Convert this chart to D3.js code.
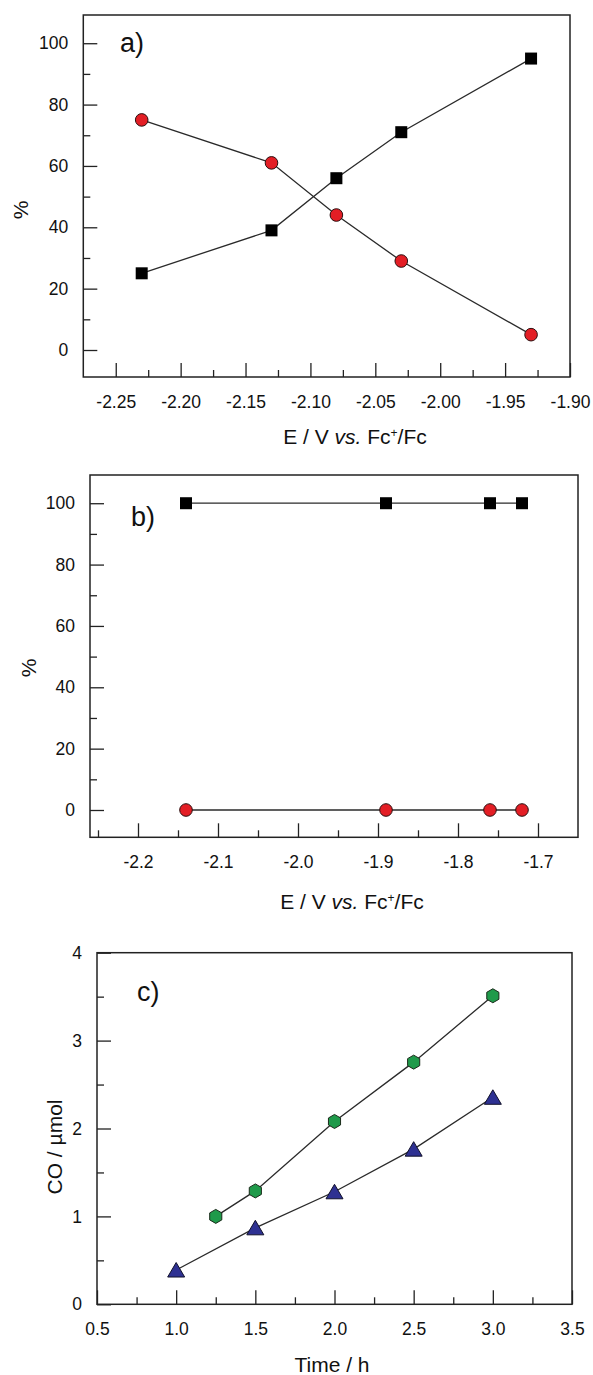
<!DOCTYPE html>
<html>
<head>
<meta charset="utf-8">
<script src="https://cdn.jsdelivr.net/npm/d3@7"></script>
<style>
  body { margin: 0; background: #fff; }
  svg { display: block; font-family: "Liberation Sans", Arial, sans-serif; }
</style>
</head>
<body>
<svg id="chart" width="593" height="1375"></svg>
<script>
// panel a) product share vs potential
var aPotential = [-2.23, -2.13, -2.08, -2.03, -1.93];
var aSquares = [25, 39, 56, 71, 95];
var aCircles = [75, 61, 44, 29, 5];
var aXTicks = [-2.25, -2.20, -2.15, -2.10, -2.05, -2.00, -1.95, -1.90];
var aXMinor = [-2.225, -2.175, -2.125, -2.075, -2.025, -1.975, -1.925];

// panel b)
var bPotential = [-2.14, -1.89, -1.76, -1.72];
var bSquares = [100, 100, 100, 100];
var bCircles = [0, 0, 0, 0];
var bXTicks = [-2.2, -2.1, -2.0, -1.9, -1.8, -1.7];
var bXMinor = [-2.25, -2.15, -2.05, -1.95, -1.85, -1.75];

var pctTicks = [0, 20, 40, 60, 80, 100];
var pctMinor = [10, 30, 50, 70, 90];

// panel c) CO vs time
var cTimeHex = [1.25, 1.5, 2.0, 2.5, 3.0];
var cHex = [1.0, 1.29, 2.08, 2.755, 3.51];
var cTimeTri = [1.0, 1.5, 2.0, 2.5, 3.0];
var cTri = [0.39, 0.87, 1.28, 1.765, 2.355];
var cXTicks = [0.5, 1.0, 1.5, 2.0, 2.5, 3.0, 3.5];
var cXMinor = [0.75, 1.25, 1.75, 2.25, 2.75, 3.25];
var cYTicks = [0, 1, 2, 3, 4];
var cYMinor = [0.5, 1.5, 2.5, 3.5];

var svg = d3.select("#chart");
var ink = "#222";

function drawFrame(x, y, xt, xm, yt, ym, xfmt, yfmt) {
    var g = svg.append("g");
    var x0 = x.range()[0], x1 = x.range()[1];
    var y0 = y.range()[0], y1 = y.range()[1];

    // bottom ticks (inward)
    var bx = g.append("g").attr("transform", "translate(0," + y0 + ")")
        .call(d3.axisBottom(x).tickValues(xt).tickSize(-14).tickFormat(xfmt));
    bx.selectAll("text").attr("y", 24.5).attr("dy", "0.35em");
    g.append("g").attr("transform", "translate(0," + y0 + ")")
        .call(d3.axisBottom(x).tickValues(xm).tickSize(-7).tickFormat(""));

    // left ticks (inward)
    var ly = g.append("g").attr("transform", "translate(" + x0 + ",0)")
        .call(d3.axisLeft(y).tickValues(yt).tickSize(-14).tickPadding(15).tickFormat(yfmt));
    g.append("g").attr("transform", "translate(" + x0 + ",0)")
        .call(d3.axisLeft(y).tickValues(ym).tickSize(-7).tickFormat(""));

    g.selectAll(".domain").remove();
    g.selectAll(".tick line").attr("stroke", ink).attr("stroke-width", 1.3);
    g.selectAll(".tick text").attr("fill", "#111").style("font-size", "17.5px")
        .style("font-family", "'Liberation Sans', Arial, sans-serif");

    g.append("rect")
        .attr("x", x0).attr("y", y1)
        .attr("width", x1 - x0).attr("height", y0 - y1)
        .attr("fill", "none").attr("stroke", ink).attr("stroke-width", 1.5);
}

function drawLine(x, y, xs, ys) {
    var pts = xs.map(function (d, i) { return [x(d), y(ys[i])]; });
    svg.append("path")
        .attr("d", d3.line()(pts))
        .attr("fill", "none").attr("stroke", "#2a2a2a").attr("stroke-width", 1.3);
}

function drawSquares(x, y, xs, ys) {
    svg.append("g").selectAll("rect").data(xs).enter().append("rect")
        .attr("x", function (d) { return x(d) - 6; })
        .attr("y", function (d, i) { return y(ys[i]) - 6; })
        .attr("width", 12).attr("height", 12)
        .attr("fill", "#000");
}

function drawCircles(x, y, xs, ys) {
    svg.append("g").selectAll("circle").data(xs).enter().append("circle")
        .attr("cx", function (d) { return x(d); })
        .attr("cy", function (d, i) { return y(ys[i]); })
        .attr("r", 6.3)
        .attr("fill", "#e31e25").attr("stroke", "#2a1010").attr("stroke-width", 1);
}

function axisTitleE(cx, cy) {
    var t = svg.append("text")
        .attr("x", cx).attr("y", cy).attr("dy", "0.35em")
        .attr("text-anchor", "middle")
        .style("font-size", "21px").attr("fill", "#111");
    t.append("tspan").text("E / V ");
    t.append("tspan").style("font-style", "italic").text("vs.");
    t.append("tspan").text(" Fc");
    t.append("tspan").attr("dy", "-7").style("font-size", "12px").text("+");
    t.append("tspan").attr("dy", "7").text("/Fc");
}

function yTitle(cx, cy, txt) {
    svg.append("text")
        .attr("transform", "translate(" + cx + "," + cy + ") rotate(-90)")
        .attr("dy", "0.35em")
        .attr("text-anchor", "middle")
        .style("font-size", "21px").attr("fill", "#111")
        .text(txt);
}

function panelLabel(px, py, txt) {
    svg.append("text").attr("x", px).attr("y", py)
        .style("font-size", "27px").attr("fill", "#111").text(txt);
}

var fmt2 = function (d) { return d3.format(".2f")(d).replace("−", "-"); };
var fmt1 = function (d) { return d3.format(".1f")(d).replace("−", "-"); };
var fmt0 = function (d) { return String(d); };

// ---- panel a
var xA = d3.scaleLinear().domain([-2.275, -1.90]).range([83.3, 570]);
var yA = d3.scaleLinear().domain([-8.8, 109.2]).range([377, 15]);
drawFrame(xA, yA, aXTicks, aXMinor, pctTicks, pctMinor, fmt2, fmt0);
drawLine(xA, yA, aPotential, aSquares);
drawLine(xA, yA, aPotential, aCircles);
drawSquares(xA, yA, aPotential, aSquares);
drawCircles(xA, yA, aPotential, aCircles);
panelLabel(120, 52, "a)");
axisTitleE(355, 437);
yTitle(21, 210, "%");

// ---- panel b
var xB = d3.scaleLinear().domain([-2.26, -1.65]).range([90, 578]);
var yB = d3.scaleLinear().domain([-8.9, 109.2]).range([837.3, 475]);
drawFrame(xB, yB, bXTicks, bXMinor, pctTicks, pctMinor, fmt1, fmt0);
drawLine(xB, yB, bPotential, bSquares);
drawLine(xB, yB, bPotential, bCircles);
drawSquares(xB, yB, bPotential, bSquares);
drawCircles(xB, yB, bPotential, bCircles);
panelLabel(131, 526, "b)");
axisTitleE(352, 902);
yTitle(28.5, 668, "%");

// ---- panel c
var xC = d3.scaleLinear().domain([0.5, 3.5]).range([97, 572]);
var yC = d3.scaleLinear().domain([0, 4]).range([1304.3, 952.7]);
drawFrame(xC, yC, cXTicks, cXMinor, cYTicks, cYMinor, fmt1, fmt0);
drawLine(xC, yC, cTimeHex, cHex);
drawLine(xC, yC, cTimeTri, cTri);

var hex = d3.range(6).map(function (k) {
    var a = Math.PI / 3 * k - Math.PI / 2;
    return [7 * Math.cos(a), 7 * Math.sin(a)];
});
svg.append("g").selectAll("path").data(cTimeHex).enter().append("path")
    .attr("transform", function (d, i) { return "translate(" + xC(d) + "," + yC(cHex[i]) + ")"; })
    .attr("d", d3.line()(hex) + "Z")
    .attr("fill", "#1f9a4a").attr("stroke", "#1a2a1a").attr("stroke-width", 1);

var tri = [[0, -7.5], [8.5, 7], [-8.5, 7]];
svg.append("g").selectAll("path").data(cTimeTri).enter().append("path")
    .attr("transform", function (d, i) { return "translate(" + xC(d) + "," + yC(cTri[i]) + ")"; })
    .attr("d", d3.line()(tri) + "Z")
    .attr("fill", "#2e3192").attr("stroke", "#11112a").attr("stroke-width", 1);

panelLabel(137, 1001, "c)");
svg.append("text").attr("x", 332).attr("y", 1365).attr("dy", "0.35em")
    .attr("text-anchor", "middle").style("font-size", "21px").attr("fill", "#111")
    .text("Time / h");
yTitle(55, 1147, "CO / µmol");
</script>
</body>
</html>
